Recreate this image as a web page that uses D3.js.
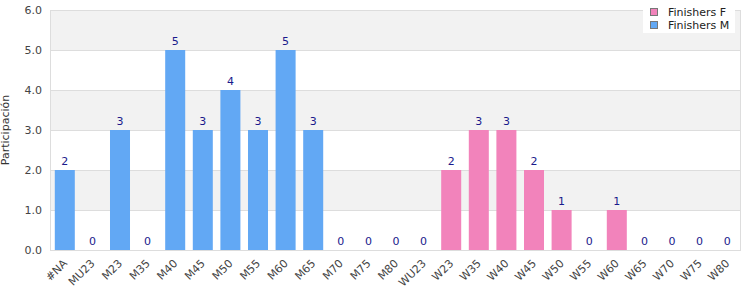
<!DOCTYPE html>
<html>
<head>
<meta charset="utf-8">
<script src="https://cdn.jsdelivr.net/npm/d3@7"></script>
<style>
  body { margin: 0; background: #fff; }
  text { font-family: "DejaVu Sans", sans-serif; }
</style>
</head>
<body>
<div id="chart"></div>
<script>
// categories + the two series (F / M)
let categories = ['#NA', 'MU23', 'M23', 'M35', 'M40', 'M45', 'M50', 'M55', 'M60', 'M65', 'M70', 'M75', 'M80',
  'WU23', 'W23', 'W35', 'W40', 'W45', 'W50', 'W55', 'W60', 'W65', 'W70', 'W75', 'W80']

let finishersM = [2, 0, 3, 0, 5, 3, 4, 3, 5, 3, 0, 0, 0]
let finishersF = [0, 2, 3, 3, 2, 1, 0, 1, 0, 0, 0, 0]

let yTicks = [0, 1, 2, 3, 4, 5, 6]

let width = 750, height = 300
let margin = {top: 10, right: 9, bottom: 50, left: 51}

let colorM = '#62a8f4', colorF = '#f283bb'

let data = categories.map((c, i) => {
    if (i < finishersM.length) return {cat: c, value: finishersM[i], color: colorM}
    return {cat: c, value: finishersF[i - finishersM.length], color: colorF}
})

let svg = d3.select('#chart')
.append('svg')
.attr('width', width)
.attr('height', height)

let x = d3.scaleBand()
.domain(categories)
.range([margin.left, width - margin.right])
.paddingInner(0.275)
.paddingOuter(0.1375)

let y = d3.scaleLinear()
.domain([0, 6])
.range([height - margin.bottom, margin.top])

// alternating bands
svg.append('g')
.selectAll('rect')
.data(yTicks.slice(0, -1))
.join('rect')
.attr('x', margin.left)
.attr('width', width - margin.right - margin.left)
.attr('y', d => y(d + 1))
.attr('height', d => y(d) - y(d + 1))
.attr('fill', d => d % 2 == 1 ? '#f2f2f2' : '#fff')

// grid lines
svg.append('g')
.selectAll('line')
.data(yTicks)
.join('line')
.attr('x1', margin.left)
.attr('x2', width - margin.right)
.attr('y1', d => y(d) + 0.5)
.attr('y2', d => y(d) + 0.5)
.style('stroke', '#ddd')

// plot border
svg.append('rect')
.attr('x', margin.left - 0.5)
.attr('y', margin.top + 0.5)
.attr('width', width - margin.right - margin.left)
.attr('height', height - margin.bottom - margin.top)
.attr('fill', 'none')
.style('stroke', '#ddd')

// y axis
let yAxis = svg.append('g')
.attr('transform', `translate(${margin.left},0)`)
.call(d3.axisLeft(y).tickValues(yTicks).tickFormat(d3.format('.1f')).tickSize(0).tickPadding(9))
yAxis.select('.domain').remove()
yAxis.selectAll('text')
.style('font-size', '11px')
.style('fill', '#444')
.style('font-family', '"DejaVu Sans", sans-serif')

svg.append('text')
.attr('transform', `translate(9,${(margin.top + height - margin.bottom) / 2}) rotate(-90)`)
.attr('text-anchor', 'middle')
.style('font-size', '11px')
.style('fill', '#333')
.text('Participación')

// x axis
let xAxis = svg.append('g')
.attr('transform', `translate(0,${height - margin.bottom})`)
.call(d3.axisBottom(x).tickSize(0).tickPadding(0))
xAxis.select('.domain').remove()
xAxis.selectAll('text')
.attr('text-anchor', 'end')
.attr('dy', 0)
.attr('transform', 'translate(3,14) rotate(-45)')
.style('font-size', '11px')
.style('fill', '#444')
.style('font-family', '"DejaVu Sans", sans-serif')

// bars
svg.append('g')
.selectAll('rect')
.data(data)
.join('rect')
.attr('x', d => x(d.cat))
.attr('width', x.bandwidth())
.attr('y', d => y(d.value))
.attr('height', d => y(0) - y(d.value))
.attr('fill', d => d.color)

// value labels
svg.append('g')
.selectAll('text')
.data(data)
.join('text')
.attr('x', d => x(d.cat) + x.bandwidth() / 2)
.attr('y', d => y(d.value) - 5)
.attr('text-anchor', 'middle')
.style('font-size', '11px')
.style('fill', '#1a1a8c')
.text(d => d.value)

// legend
let legendItems = [{name: 'Finishers F', color: colorF}, {name: 'Finishers M', color: colorM}]

let legend = svg.append('g')
legend.append('rect')
.attr('x', 643)
.attr('y', 0)
.attr('width', 92)
.attr('height', 33)
.attr('fill', '#fff')

let item = legend.selectAll('g')
.data(legendItems)
.join('g')
.attr('transform', (d, i) => `translate(650,${8 + i * 13})`)

item.append('rect')
.attr('x', 0.5)
.attr('y', 0.5)
.attr('width', 7)
.attr('height', 7)
.attr('fill', d => d.color)
.style('stroke', '#777')

item.append('text')
.attr('x', 18)
.attr('y', 8)
.style('font-size', '11px')
.style('fill', '#222')
.text(d => d.name)
</script>
</body>
</html>
